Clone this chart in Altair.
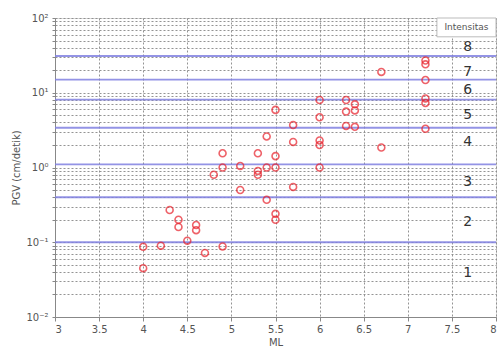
import altair as alt
import pandas as pd

# Earthquake records: local magnitude vs peak ground velocity
ml = [4.0, 4.0, 4.2, 4.3, 4.4, 4.4, 4.5, 4.6, 4.6, 4.7, 4.9,
      4.8, 4.9, 4.9, 5.1, 5.1, 5.3, 5.3, 5.3, 5.4, 5.4, 5.4,
      5.5, 5.5, 5.5, 5.5, 5.5, 5.7, 5.7, 5.7,
      6.0, 6.0, 6.0, 6.0, 6.0, 6.3, 6.3, 6.3, 6.4, 6.4, 6.4,
      6.7, 6.7, 7.2, 7.2, 7.2, 7.2, 7.2, 7.2]
pgv = [0.087, 0.045, 0.09, 0.27, 0.20, 0.16, 0.105, 0.17, 0.145, 0.072, 0.088,
       0.8, 1.0, 1.55, 1.05, 0.5, 1.55, 0.9, 0.8, 2.6, 0.37, 1.0,
       1.0, 1.42, 5.9, 0.24, 0.2, 3.7, 2.2, 0.55,
       8.0, 4.7, 2.3, 2.0, 1.0, 8.0, 5.6, 3.6, 7.0, 5.8, 3.5,
       19.0, 1.85, 27.0, 24.0, 14.8, 8.4, 7.3, 3.3]

# Intensity class boundaries (PGV, cm/s) and class labels
boundaries = [0.1, 0.4, 1.1, 3.4, 8.1, 15.0, 31.0]
intensity = ["1", "2", "3", "4", "5", "6", "7", "8"]
intensity_pgv = [0.039, 0.186, 0.64, 2.2, 5.0, 10.9, 19.0, 41.0]
label_ml = 7.68

# Header box for the intensity column
header_text = "Intensitas"
header_ml = [7.33, 8.0]
header_pgv = [56.0, 100.0]

x_ticks = [3, 3.5, 4, 4.5, 5, 5.5, 6, 6.5, 7, 7.5, 8]
y_ticks = [m * 10.0 ** e for e in (-2, -1, 0, 1) for m in range(1, 10)] + [100.0]
y_labels = {0.01: "10⁻²", 0.1: "10⁻¹", 1.0: "10⁰", 10.0: "10¹", 100.0: "10²"}

label_expr = " : ".join(
    f"abs(datum.value - {v}) < {v * 1e-6} ? '{t}'" for v, t in y_labels.items()
) + " : ''"

points = pd.DataFrame({"ML": ml, "PGV": pgv})
lines = pd.DataFrame({"PGV": boundaries})
labels = pd.DataFrame({"ML": [label_ml] * len(intensity), "PGV": intensity_pgv,
                       "I": intensity})
header = pd.DataFrame({"x": [header_ml[0]], "x2": [header_ml[1]],
                       "y": [header_pgv[0]], "y2": [header_pgv[1]],
                       "xm": [sum(header_ml) / 2], "ym": [(header_pgv[0] * header_pgv[1]) ** 0.5],
                       "t": [header_text]})

x_scale = alt.Scale(domain=[3, 8], nice=False, zero=False)
y_scale = alt.Scale(type="log", domain=[0.01, 100], nice=False)

x_axis = alt.Axis(values=x_ticks, format=".1~f", title="ML", grid=True,
                  gridDash=[2, 2], gridColor="#888", gridOpacity=0.9,
                  tickSize=4, labelFontSize=10, labelColor="#555",
                  titleFontSize=10, titleColor="#555", titleFontWeight="normal",
                  domainColor="#888", tickColor="#888", labelPadding=3, titlePadding=3)
y_axis = alt.Axis(values=y_ticks, labelExpr=label_expr, title="PGV (cm/detik)",
                  grid=True, gridDash=[2, 2], gridColor="#888", gridOpacity=0.9,
                  tickSize=3, labelFontSize=10, labelColor="#555",
                  titleFontSize=10, titleColor="#555", titleFontWeight="normal",
                  domainColor="#888", tickColor="#888", labelPadding=4,
                  labelOverlap=False)

base = alt.Chart(points).mark_point(
    shape="circle", filled=False, color="#e8202a", size=48, strokeWidth=1.6
).encode(
    x=alt.X("ML:Q", scale=x_scale, axis=x_axis),
    y=alt.Y("PGV:Q", scale=y_scale, axis=y_axis),
)

rules = alt.Chart(lines).mark_rule(color="#8080e0", strokeWidth=1.8, opacity=0.85).encode(
    y=alt.Y("PGV:Q", scale=y_scale)
)

box = alt.Chart(header).mark_rect(fill="white", stroke="#bbb", strokeWidth=1).encode(
    x=alt.X("x:Q", scale=x_scale), x2="x2:Q",
    y=alt.Y("y:Q", scale=y_scale), y2="y2:Q",
)
box_text = alt.Chart(header).mark_text(fontSize=9, color="#555").encode(
    x=alt.X("xm:Q", scale=x_scale), y=alt.Y("ym:Q", scale=y_scale), text="t:N"
)

intensity_text = alt.Chart(labels).mark_text(fontSize=14, color="#333").encode(
    x=alt.X("ML:Q", scale=x_scale), y=alt.Y("PGV:Q", scale=y_scale), text="I:N"
)

chart = alt.layer(rules, box, box_text, intensity_text, base).properties(
    width=441, height=299,
    autosize=alt.AutoSizeParams(type="none"),
    padding={"left": 55, "top": 18, "right": 4, "bottom": 30},
    background="white",
).configure_view(stroke="#888", strokeWidth=1).configure(font="DejaVu Sans")

chart.save("out.html", embed_options={"renderer": "svg", "actions": False})
